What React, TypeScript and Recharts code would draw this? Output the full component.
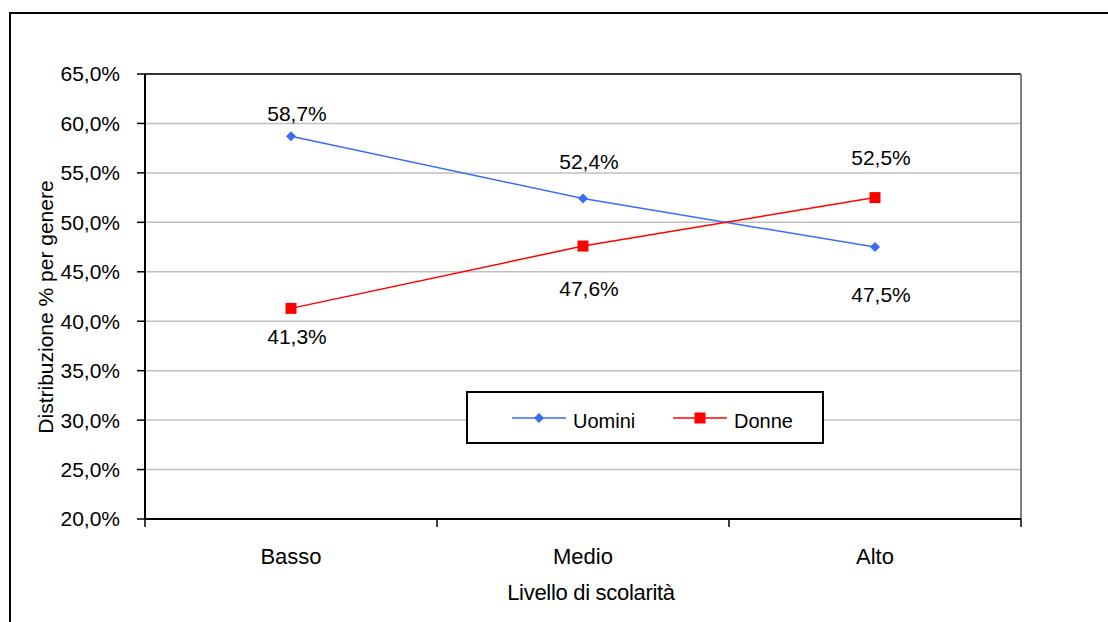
import React from "react";
import {
  LineChart,
  Line,
  XAxis,
  YAxis,
  CartesianGrid,
  ReferenceLine,
  Legend,
} from "recharts";

const categories = ["Basso", "Medio", "Alto"];
const seriesNames = ["Uomini", "Donne"];
const uomini = [58.7, 52.4, 47.5];
const donne = [41.3, 47.6, 52.5];
const yTicks = [20, 25, 30, 35, 40, 45, 50, 55, 60, 65];
const xBounds = [0, 1, 2, 3];

const FONT = "'Liberation Sans', Arial, sans-serif";
const W = 1108;
const H = 622;
const MARGIN = { top: 74, right: 87, bottom: 43, left: 0 };
const Y_W = 145;
const BAND = (W - MARGIN.right - Y_W) / categories.length;

// label vertical offsets (px from point), per point
const uominiDy = [-23, -37, 47];
const donneDy = [28, 42, -40];

const fmt = (v: number) => v.toFixed(1).replace(".", ",") + "%";

const data = categories.map((name, i) => ({
  name,
  pos: i + 0.5,
  uomini: uomini[i],
  donne: donne[i],
}));

const makeLabel = (dys: number[]) => (p: any) => {
  const { x, y, index, value } = p;
  return (
    <text
      key={`l-${index}`}
      x={x + 6}
      y={y + dys[index]}
      textAnchor="middle"
      dominantBaseline="central"
      fontSize={21}
      fontFamily={FONT}
      fill="#000"
    >
      {fmt(value)}
    </text>
  );
};

const Diamond = (p: any) => {
  const { cx, cy, index } = p;
  const r = 5;
  return (
    <path
      key={`d-${index}`}
      d={`M${cx},${cy - r} L${cx + r},${cy} L${cx},${cy + r} L${cx - r},${cy} Z`}
      fill="#3a6cf4"
    />
  );
};

const Square = (p: any) => {
  const { cx, cy, index } = p;
  return <rect key={`s-${index}`} x={cx - 5.5} y={cy - 5.5} width={11} height={11} fill="#ff0000" />;
};

const XTick = (p: any) => {
  const { x, y, payload } = p;
  const name = categories[payload.value];
  if (!name) return <g />;
  return (
    <text
      x={x + BAND / 2}
      y={y + 35}
      textAnchor="middle"
      fontSize={22}
      fontFamily={FONT}
      fill="#000"
    >
      {name}
    </text>
  );
};

const LegendBox = (props: any) => {
  const payload = [...(props.payload || [])].sort(
    (a: any, b: any) => seriesNames.indexOf(a.value) - seriesNames.indexOf(b.value)
  );
  const starts = [46, 207];
  return (
    <div
      style={{
        width: 358,
        height: 53,
        border: "2px solid #000",
        background: "#fff",
        boxSizing: "border-box",
        position: "relative",
        fontFamily: FONT,
        fontSize: 20,
        color: "#000",
      }}
    >
      {payload.map((e: any, i: number) => (
        <div key={e.value} style={{ position: "absolute", left: starts[i] - 2, top: 0, height: 49, display: "flex", alignItems: "center" }}>
          <svg width={54} height={20} style={{ display: "block" }}>
            <line x1={0} y1={10} x2={54} y2={10} stroke={e.color} strokeWidth={1.5} />
            {e.value === "Uomini" ? (
              <path d="M27,5 L32,10 L27,15 L22,10 Z" fill={e.color} />
            ) : (
              <rect x={21.5} y={4.5} width={11} height={11} fill={e.color} />
            )}
          </svg>
          <span style={{ marginLeft: 7, lineHeight: "20px", position: "relative", top: 3 }}>{e.value}</span>
        </div>
      ))}
    </div>
  );
};

export default function App() {
  return (
    <div style={{ position: "absolute", left: 0, top: 0, width: W, height: H, overflow: "hidden", background: "#fff" }}>
      <div
        style={{
          position: "absolute",
          left: 9,
          top: 12,
          width: W,
          height: H,
          borderLeft: "2px solid #000",
          borderTop: "2px solid #000",
        }}
      />
      <div style={{ position: "absolute", left: 0, top: 0 }}>
        <LineChart width={W} height={H} data={data} margin={MARGIN}>
          <CartesianGrid vertical={false} stroke="#c0c0c0" strokeWidth={1.5} />
          <XAxis
            dataKey="pos"
            type="number"
            domain={[0, 3]}
            ticks={xBounds}
            height={60}
            tickSize={8}
            tickLine={{ stroke: "#000", strokeWidth: 1.5 }}
            axisLine={{ stroke: "#000", strokeWidth: 2 }}
            tick={<XTick />}
            interval={0}
            label={() => (
              <text x={591} y={600} textAnchor="middle" fontSize={22} fontFamily={FONT} fill="#000" letterSpacing={-0.3}>
                Livello di scolarità
              </text>
            )}
          />
          <YAxis
            type="number"
            domain={[20, 65]}
            ticks={yTicks}
            width={Y_W}
            tickSize={8}
            tickMargin={17}
            tickFormatter={fmt}
            tick={{ fontSize: 21, fontFamily: FONT, fill: "#000" }}
            tickLine={{ stroke: "#000", strokeWidth: 1.5 }}
            axisLine={{ stroke: "#000", strokeWidth: 2 }}
            interval={0}
            label={() => (
              <text
                x={45}
                y={307}
                transform="rotate(-90 45 307)"
                textAnchor="middle"
                dominantBaseline="central"
                fontSize={21}
                fontFamily={FONT}
                fill="#000"
              >
                Distribuzione % per genere
              </text>
            )}
          />
          <ReferenceLine y={65} stroke="#000" strokeWidth={1.5} />
          <ReferenceLine x={3} stroke="#808080" strokeWidth={2} />
          <Line
            name="Uomini"
            dataKey="uomini"
            stroke="#3a6cf4"
            strokeWidth={1.5}
            dot={Diamond}
            activeDot={false}
            label={makeLabel(uominiDy)}
            isAnimationActive={false}
          />
          <Line
            name="Donne"
            dataKey="donne"
            stroke="#ff0000"
            strokeWidth={1.5}
            dot={Square}
            activeDot={false}
            label={makeLabel(donneDy)}
            isAnimationActive={false}
          />
          <Legend
            layout="horizontal"
            verticalAlign="middle"
            align="center"
            content={<LegendBox />}
            wrapperStyle={{ left: 466, top: 391, width: 358, height: 53 }}
          />
        </LineChart>
      </div>
    </div>
  );
}
